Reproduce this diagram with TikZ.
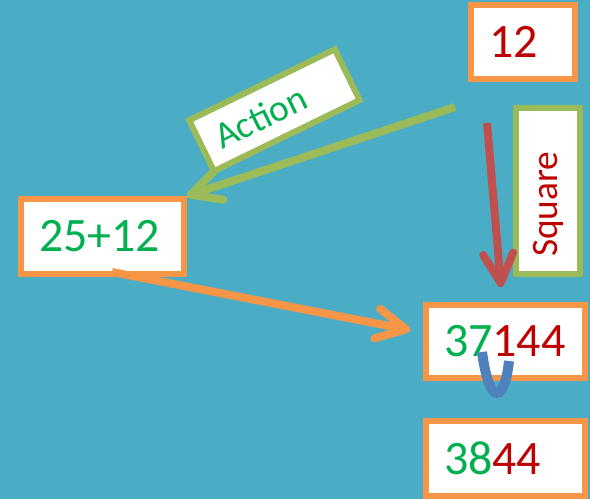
\documentclass[tikz,border=0pt]{standalone}
\usepackage{fontspec}
\setmainfont{Carlito}
\usetikzlibrary{arrows.meta}

\tikzset{every picture/.style={line width=0.75pt}}
\tikzset{
  numbox/.style={draw={rgb, 255:red, 247; green, 150; blue, 70 }, fill=white, line width=4.5pt, inner xsep=13.5pt, inner ysep=0pt, align=left, font=\fontsize{36}{40}\selectfont},
  tagbox/.style={draw={rgb, 255:red, 155; green, 187; blue, 89 }, fill=white, line width=4.5pt, inner xsep=12.75pt, inner ysep=0pt, align=left, font=\fontsize{28}{32}\selectfont},
  bigarrow/.style={line width=6pt, -{Straight Barb[length=22pt, width=22.5pt, round]}},
}
\newcommand{\gtxt}[1]{\textcolor[rgb]{0,0.69,0.31}{#1}}
\newcommand{\rtxt}[1]{\textcolor[rgb]{0.75,0,0}{#1}}

\begin{document}
\begin{tikzpicture}[x=0.75pt,y=0.75pt,yscale=-1,xscale=1]
        \useasboundingbox (0,0) rectangle (590,499);
        %Background
        \fill [color={rgb, 255:red, 75; green, 172; blue, 198 }] (0,0) rectangle (590,499);

        % Text Node
        \node [numbox, minimum width=78pt, minimum height=55.5pt, text width=51pt] (sq12) at (523,42) {\rtxt{12}};
        % Text Node
        \node [numbox, minimum width=122.25pt, minimum height=56.25pt, text width=95.25pt] (sum) at (102.5,236.5) {\gtxt{25+12}};
        % Text Node
        \node [numbox, minimum width=119.25pt, minimum height=54.75pt, text width=92.25pt] (res1) at (505.5,341.5) {\gtxt{37}\rtxt{144}};
        % Text Node
        \node [numbox, minimum width=119.25pt, minimum height=56.25pt, text width=92.25pt] (res2) at (505.5,458.5) {\gtxt{38}\rtxt{44}};
        % Text Node
        \node [tagbox, rotate=90, minimum width=124.5pt, minimum height=48pt, text width=99pt] (sqtag) at (548,191) {\rtxt{Square}};

        %Straight Lines
        \coordinate (actstart) at (455,107);
        \draw [bigarrow, color={rgb, 255:red, 155; green, 187; blue, 89 }] (actstart) -- (sum.north east);
        % Text Node
        \node [tagbox, rotate=26, minimum width=121.5pt, minimum height=42.4pt, text width=96pt] (acttag) at (274.4,110.2) {\gtxt{Action}};

        %Straight Lines
        \coordinate (sqstart) at (487,123);
        \coordinate (sqend) at (501,287);
        \draw [bigarrow, color={rgb, 255:red, 192; green, 80; blue, 77 }] (sqstart) -- (sqend);
        %Straight Lines
        \coordinate (sumstart) at (112,272);
        \coordinate (sumend) at (410,330);
        \draw [bigarrow, color={rgb, 255:red, 247; green, 150; blue, 70 }] (sumstart) -- (sumend);

        %Curve Lines
        \coordinate (carryin) at (482,352);
        \coordinate (carryout) at (509,361);
        \draw [color={rgb, 255:red, 79; green, 129; blue, 189 }, line width=7.5pt] (carryin) .. controls (490,410) and (505,400) .. (carryout);
\end{tikzpicture}
\end{document}
